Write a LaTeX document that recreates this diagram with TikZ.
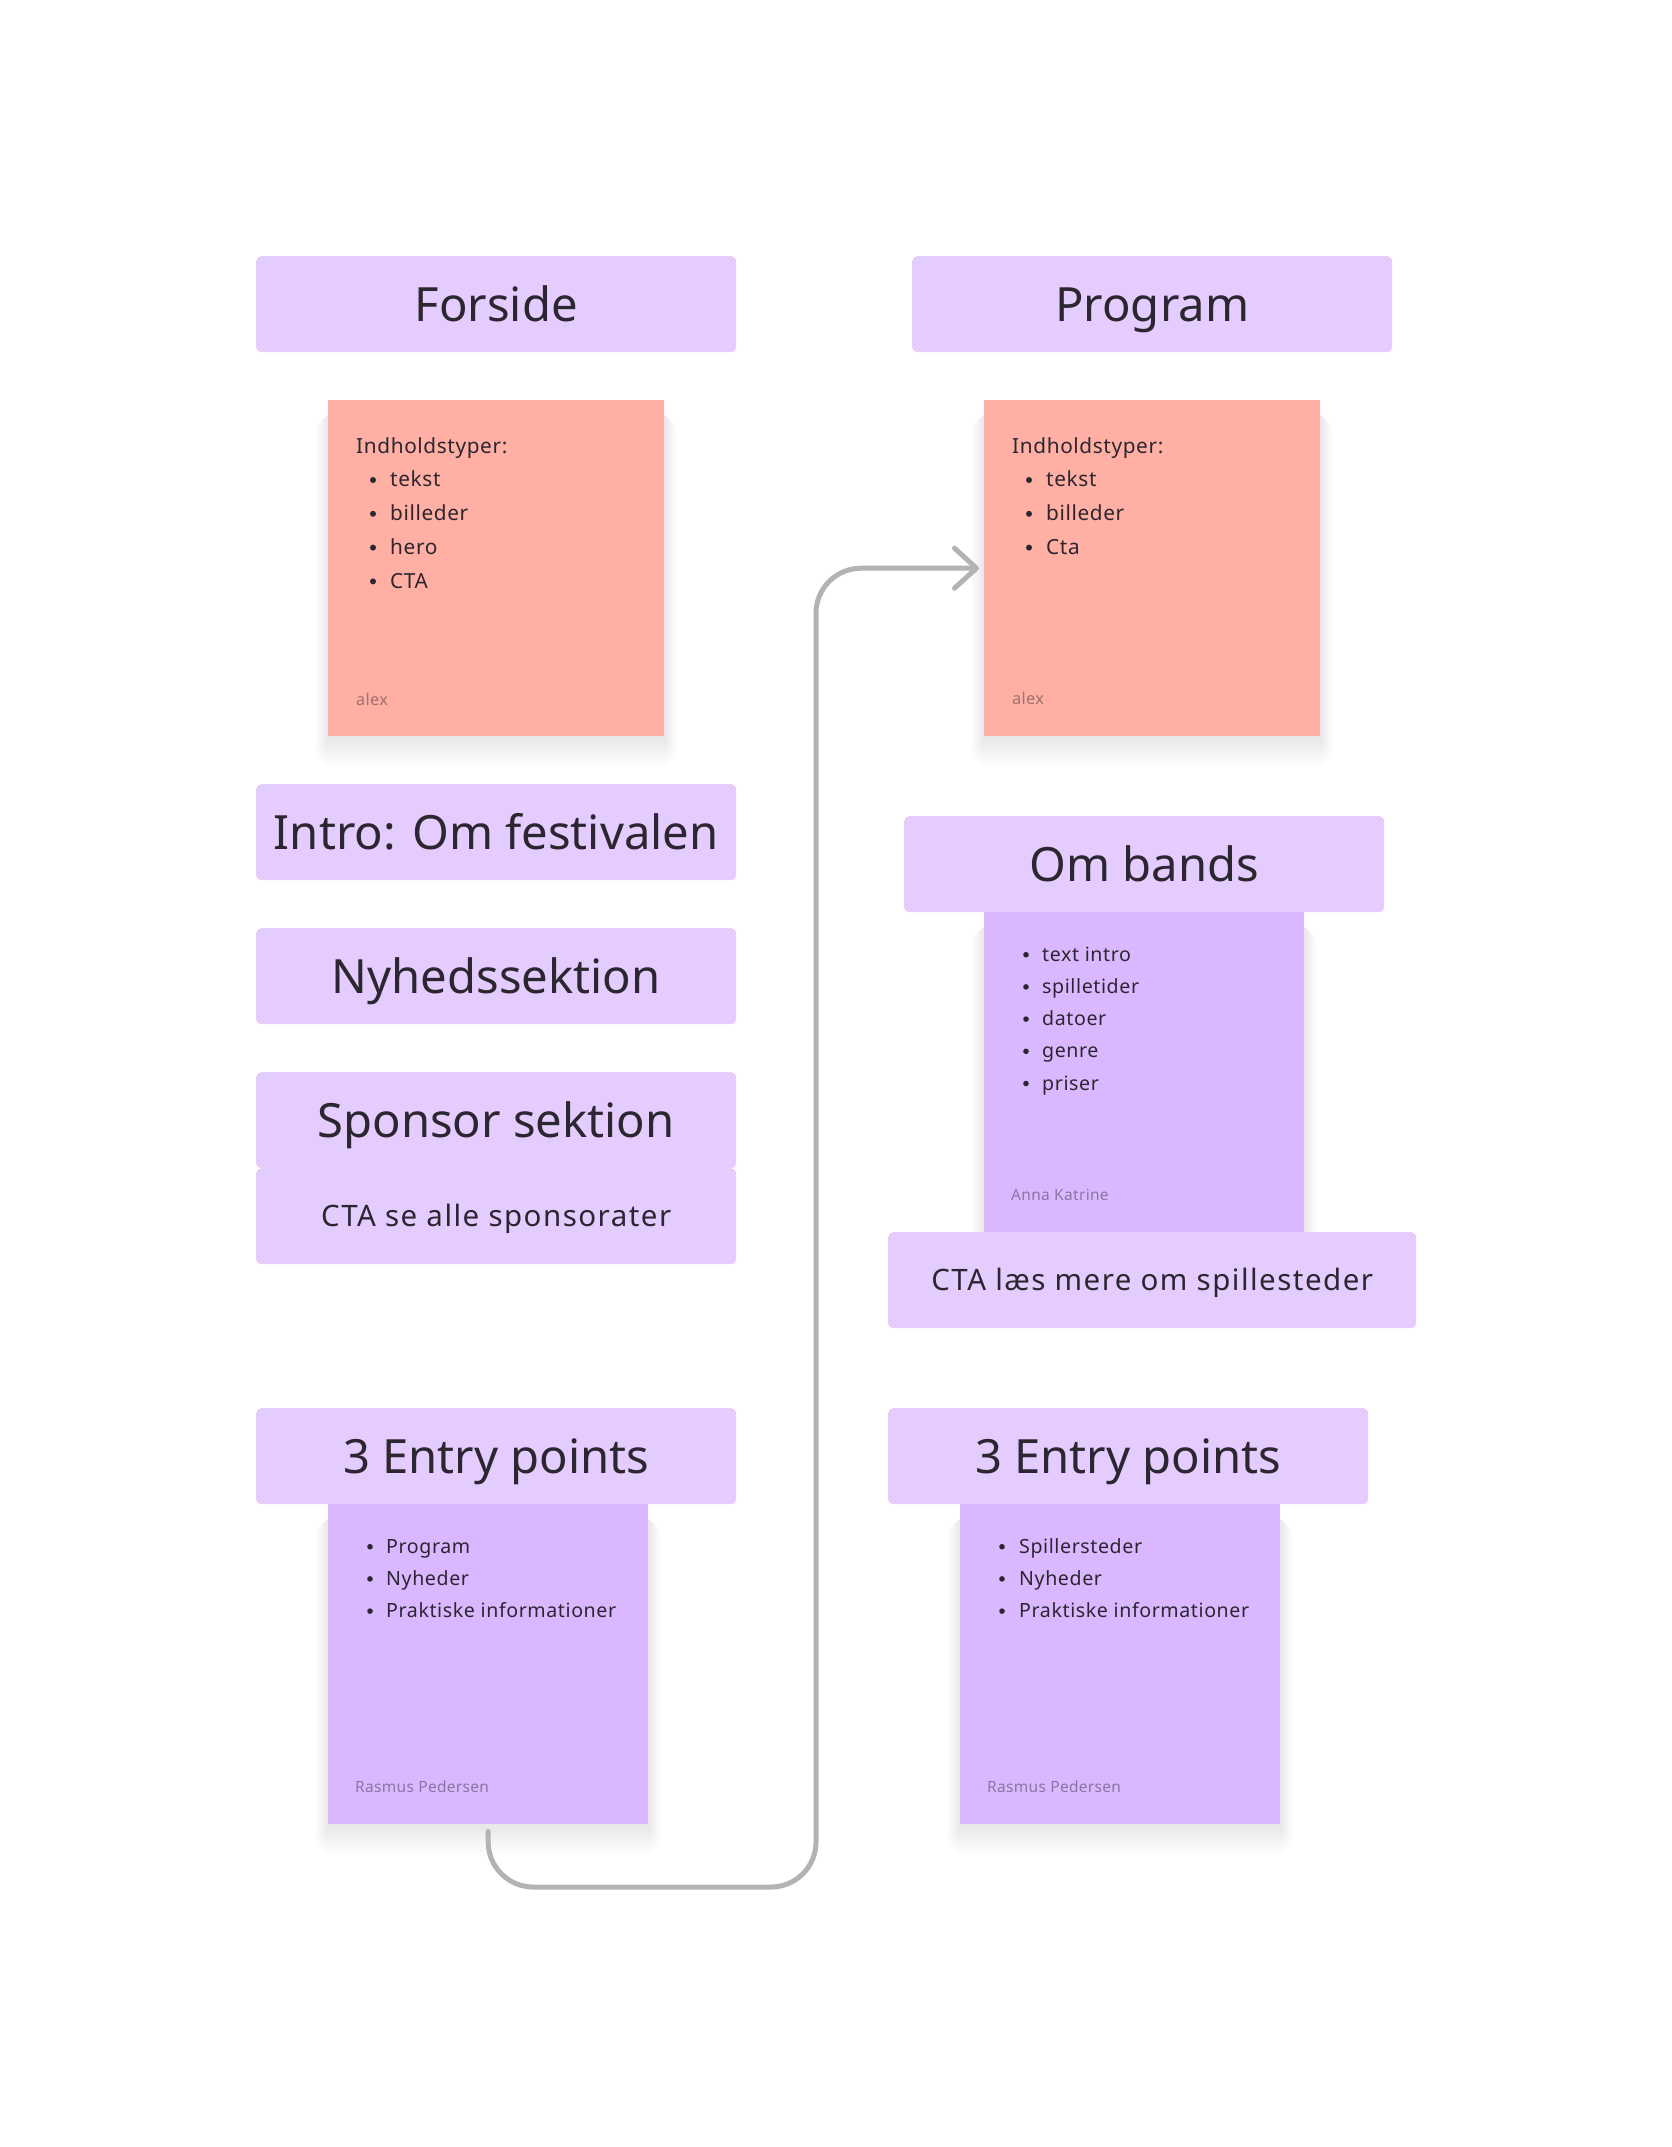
\documentclass[tikz,border=0pt]{standalone}
\usepackage{fontspec}
\setmainfont{Noto Sans}
\newfontfamily\bodyfam[LetterSpace=3]{Noto Sans}
\newfontfamily\ctafam[LetterSpace=5]{Noto Sans}
\newfontfamily\footfam[LetterSpace=2]{Noto Sans}
\usetikzlibrary{arrows.meta,calc}
\definecolor{hdr}{HTML}{E4CCFF}
\definecolor{vio}{HTML}{D9B8FF}
\definecolor{rosa}{HTML}{FFAFA3}
\definecolor{ink}{HTML}{2C2631}
\definecolor{connc}{HTML}{B3B3B3}
\tikzset{
  header/.style={fill=hdr, rounded corners=5pt, inner sep=0pt, anchor=north west,
    minimum height=96pt, text=ink},
  bigtxt/.style={font=\fontsize{47.2}{56}\selectfont, text height=35pt, text depth=0pt},
  smalltxt/.style={font=\ctafam\fontsize{29.5}{34}\selectfont, text height=21pt, text depth=0pt},
  sticky/.style={inner sep=0pt, anchor=north west},
  bodyr/.style={anchor=base west, inner sep=0pt, text=ink, font=\bodyfam\fontsize{20.8}{24}\selectfont},
  bodyv/.style={anchor=base west, inner sep=0pt, text=ink, font=\bodyfam\fontsize{19.6}{24}\selectfont},
  footr/.style={anchor=base west, inner sep=0pt, text=ink, text opacity=0.45, font=\footfam\fontsize{16.3}{20}\selectfont},
  footv/.style={anchor=base west, inner sep=0pt, text=ink, text opacity=0.45, font=\footfam\fontsize{15.5}{20}\selectfont},
  connector/.style={draw=connc, line width=5pt, rounded corners=45pt, line cap=round,
    shorten <=7pt, shorten >=5pt, -{Straight Barb[length=22pt, width=40pt, round]}}
}
\newcommand\stickyshade[1]{%
  \foreach \k in {1,...,22} {
    \fill[black, opacity=0.0055, rounded corners=\k pt]
      ($(#1.north west)+({-0.6*\k},14)$) rectangle ($(#1.south east)+({0.6*\k},{3+1.3*\k})$);
  }%
}
\begin{document}
\begin{tikzpicture}[x=1pt,y=-1pt]
\useasboundingbox (0,0) rectangle (1672,2147);
\fill[white] (0,0) rectangle (1672,2147);

% sticky positions (empty nodes first, for the shadows)
\path
  node[sticky, minimum width=336pt, minimum height=336pt] (fs) at (328,400) {}
  node[sticky, minimum width=336pt, minimum height=336pt] (ps) at (984,400) {}
  node[sticky, minimum width=320pt, minimum height=320pt] (bs) at (984,912) {}
  node[sticky, minimum width=320pt, minimum height=320pt] (el) at (328,1504) {}
  node[sticky, minimum width=320pt, minimum height=320pt] (er) at (960,1504) {};
\stickyshade{fs}
\stickyshade{ps}
\stickyshade{bs}
\stickyshade{el}
\stickyshade{er}
\fill[rosa] (fs.north west) rectangle (fs.south east);
\fill[rosa] (ps.north west) rectangle (ps.south east);
\fill[vio] (bs.north west) rectangle (bs.south east);
\fill[vio] (el.north west) rectangle (el.south east);
\fill[vio] (er.north west) rectangle (er.south east);

% headers
\node[header, bigtxt, minimum width=480pt] (forside) at (256,256) {Forside};
\node[header, bigtxt, minimum width=480pt] (program) at (912,256) {Program};
\node[header, bigtxt, minimum width=480pt] (intro) at (256,784) {Intro: Om festivalen};
\node[header, bigtxt, minimum width=480pt] (nyhed) at (256,928) {Nyhedssektion};
\node[header, bigtxt, minimum width=480pt] (sponsor) at (256,1072) {Sponsor sektion};
\node[header, smalltxt, minimum width=480pt] (ctasp) at (256,1168) {CTA se alle sponsorater};
\node[header, bigtxt, minimum width=480pt] (ombands) at (904,816) {Om bands};
\node[header, smalltxt, minimum width=528pt] (ctalaes) at (888,1232) {CTA læs mere om spillesteder};
\node[header, bigtxt, minimum width=480pt] (entryl) at (256,1408) {3 Entry points};
\node[header, bigtxt, minimum width=480pt] (entryr) at (888,1408) {3 Entry points};

% Forside sticky
\node[bodyr] (fsh) at (356,453) {Indholdstyper:};
\foreach \t [count=\i] in {tekst,billeder,hero,CTA} {
  \node[bodyr] (fsi\i) at (390,{453+33.8*\i}) {\t};
  \fill[ink] (373,{453+33.8*\i-6.8}) circle (3);
}
\node[footr] (fsf) at (356,705) {alex};

% Program sticky
\node[bodyr] (psh) at (1012,453) {Indholdstyper:};
\foreach \t [count=\i] in {tekst,billeder,Cta} {
  \node[bodyr] (psi\i) at (1046,{453+33.8*\i}) {\t};
  \fill[ink] (1029,{453+33.8*\i-6.8}) circle (3);
}
\node[footr] (psf) at (1012,704) {alex};

% Om bands sticky
\foreach \t [count=\i] in {text intro,spilletider,datoer,genre,priser} {
  \node[bodyv] (bsi\i) at (1042,{929+32.2*\i}) {\t};
  \fill[ink] (1026,{929+32.2*\i-6.5}) circle (2.8);
}
\node[footv] (bsf) at (1011,1200) {Anna Katrine};

% Entry left sticky
\foreach \t [count=\i] in {Program,Nyheder,Praktiske informationer} {
  \node[bodyv] (eli\i) at (386,{1521+32.2*\i}) {\t};
  \fill[ink] (370,{1521+32.2*\i-6.5}) circle (2.8);
}
\node[footv] (elf) at (355,1792) {Rasmus Pedersen};

% Entry right sticky
\foreach \t [count=\i] in {Spillersteder,Nyheder,Praktiske informationer} {
  \node[bodyv] (eri\i) at (1019,{1521+32.2*\i}) {\t};
  \fill[ink] (1002,{1521+32.2*\i-6.5}) circle (2.8);
}
\node[footv] (erf) at (987,1792) {Rasmus Pedersen};

% connector
\coordinate (bend) at (816,1887);
\draw[connector] (el.south) |- (bend) |- (ps.west);
\end{tikzpicture}
\end{document}
